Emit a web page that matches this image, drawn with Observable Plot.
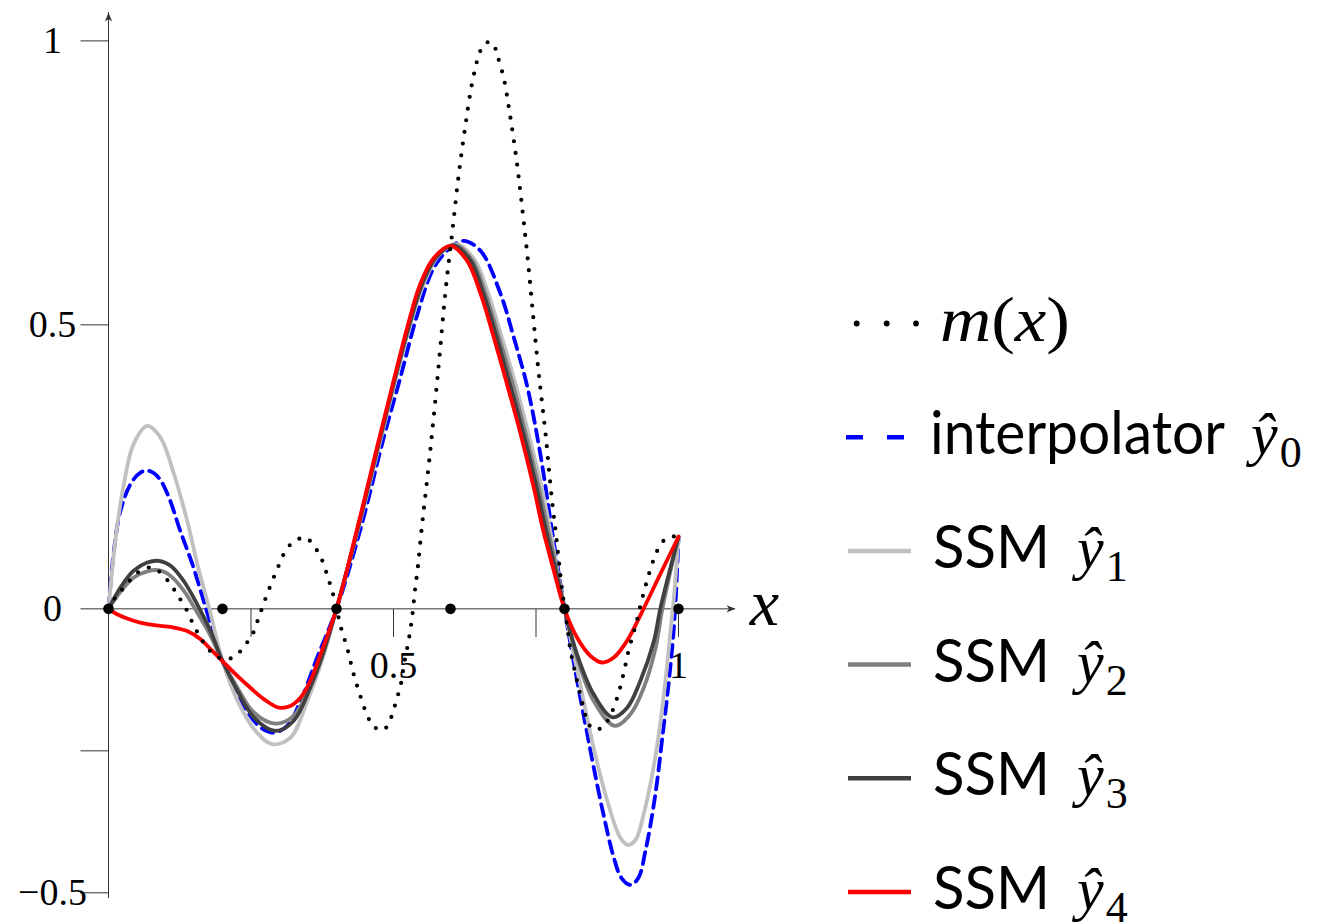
<!DOCTYPE html>
<html>
<head>
<meta charset="utf-8">
<script src="https://cdn.jsdelivr.net/npm/d3@7"></script>
<script src="https://cdn.jsdelivr.net/npm/@observablehq/plot@0.6"></script>
<style>
  html, body { margin: 0; padding: 0; background: #fff; }
  #wrap { position: relative; width: 1328px; height: 924px; overflow: hidden; background: #fff; }
  #chart { position: absolute; left: 0; top: 0; }
  #legend { position: absolute; left: 820px; top: 0; }
</style>
</head>
<body>
<div id="wrap">
  <div id="chart"></div>
  <svg id="legend" width="508" height="924"></svg>
</div>
<script>
// ---- data: [x, y] samples of each curve ----
const truth = [ // m(x)
  [0,0],[0.012,0.02],[0.027,0.0375],[0.042,0.055],[0.056,0.067],[0.077,0.073],[0.094,0.061],
  [0.109,0.043],[0.12,0.026],[0.135,0.002],[0.15,-0.03],[0.161,-0.05],[0.173,-0.068],[0.188,-0.083],
  [0.205,-0.089],[0.223,-0.083],[0.237,-0.067],[0.252,-0.046],[0.264,-0.014],[0.278,0.025],
  [0.296,0.07],[0.313,0.106],[0.328,0.12],[0.346,0.1255],[0.36,0.111],[0.372,0.092],[0.386,0.052],
  [0.398,0.011],[0.407,-0.03],[0.419,-0.07],[0.429,-0.111],[0.441,-0.151],[0.455,-0.19],[0.465,-0.207],
  [0.482,-0.2136],[0.4935,-0.197],[0.5006,-0.1766],[0.5065,-0.156],[0.5123,-0.136],[0.519,-0.0945],
  [0.527,-0.053],[0.533,-0.012],[0.5374,0.0305],[0.5426,0.0727],[0.549,0.137],[0.565,0.283],
  [0.5795,0.431],[0.591,0.557],[0.603,0.6625],[0.6146,0.766],[0.626,0.85],[0.6356,0.913],[0.644,0.954],
  [0.6496,0.975],[0.658,0.993],[0.667,0.998],[0.675,0.995],[0.682,0.975],[0.6935,0.934],[0.704,0.872],
  [0.716,0.789],[0.726,0.704],[0.735,0.621],[0.745,0.516],[0.753,0.432],[0.76,0.368],[0.767,0.306],
  [0.773,0.242],[0.7795,0.178],[0.785,0.132],[0.79,0.085],[0.795,0.04],[0.805,-0.033],[0.8105,-0.073],
  [0.819,-0.114],[0.829,-0.156],[0.8386,-0.193],[0.85,-0.212],[0.866,-0.209],[0.879,-0.191],
  [0.8935,-0.153],[0.904,-0.112],[0.913,-0.071],[0.9246,-0.03],[0.9345,0.011],[0.945,0.0505],
  [0.9567,0.0875],[0.9655,0.108],[0.974,0.12],[0.986,0.127],[1,0.127]
];

const interp = [ // interpolator ŷ0
  [0,0],[0.0094,0.102],[0.021,0.1725],[0.0386,0.2195],[0.056,0.24],[0.071,0.243],[0.088,0.231],
  [0.106,0.196],[0.126,0.137],[0.147,0.079],[0.167,0.014],[0.185,-0.045],[0.2,-0.092],[0.22,-0.133],
  [0.243,-0.18],[0.267,-0.209],[0.29,-0.218],[0.3135,-0.206],[0.337,-0.162],[0.366,-0.086],[0.4,0],
  [0.442,0.14],[0.483,0.302],[0.512,0.407],[0.542,0.519],[0.571,0.601],[0.6,0.636],[0.623,0.648],
  [0.653,0.63],[0.688,0.554],[0.711,0.478],[0.735,0.39],[0.758,0.27],[0.78,0.125],[0.8,0],
  [0.82,-0.115],[0.837,-0.205],[0.851,-0.278],[0.869,-0.365],[0.8865,-0.438],[0.9,-0.474],
  [0.916,-0.486],[0.93,-0.473],[0.942,-0.426],[0.954,-0.3615],[0.9626,-0.303],[0.971,-0.232],
  [0.98,-0.156],[0.989,-0.068],[0.9947,0.01],[1,0.125]
];

const ssm1 = [ // SSM ŷ1
  [0,0],[0.012,0.12],[0.027,0.22],[0.044,0.29],[0.068,0.322],[0.091,0.302],[0.115,0.237],
  [0.138,0.155],[0.158,0.07],[0.177,0.0],[0.2,-0.092],[0.228,-0.165],[0.258,-0.215],[0.287,-0.238],
  [0.319,-0.227],[0.349,-0.162],[0.378,-0.08],[0.4,0],[0.438,0.14],[0.474,0.284],[0.503,0.401],
  [0.528,0.495],[0.553,0.572],[0.579,0.622],[0.611,0.642],[0.642,0.615],[0.666,0.556],[0.69,0.478],
  [0.714,0.396],[0.737,0.308],[0.76,0.214],[0.78,0.11],[0.8,0],[0.828,-0.135],[0.851,-0.244],
  [0.875,-0.338],[0.898,-0.403],[0.911,-0.4155],[0.9246,-0.407],[0.939,-0.361],[0.954,-0.291],
  [0.9655,-0.2206],[0.977,-0.127],[0.986,-0.039],[0.993,0.032],[1,0.127]
];

const ssm2 = [ // SSM ŷ2
  [0,0],[0.021,0.03],[0.044,0.055],[0.068,0.066],[0.088,0.068],[0.109,0.058],[0.132,0.032],
  [0.1556,-0.0065],[0.179,-0.0475],[0.2,-0.092],[0.226,-0.1385],[0.255,-0.1825],[0.293,-0.202],
  [0.325,-0.188],[0.354,-0.1325],[0.378,-0.07],[0.4,0],[0.437,0.14],[0.473,0.284],[0.502,0.401],
  [0.527,0.495],[0.551,0.572],[0.577,0.621],[0.608,0.641],[0.638,0.614],[0.661,0.556],[0.685,0.478],
  [0.709,0.396],[0.732,0.308],[0.755,0.214],[0.771,0.14],[0.787,0.066],[0.8,0],[0.822,-0.086],
  [0.851,-0.162],[0.888,-0.206],[0.916,-0.185],[0.939,-0.139],[0.96,-0.068],[0.971,-0.0035],
  [0.986,0.067],[1,0.127]
];

const ssm3 = [ // SSM ŷ3
  [0,0],[0.021,0.0375],[0.044,0.067],[0.068,0.0815],[0.088,0.0845],[0.109,0.076],[0.132,0.049],
  [0.1556,0.008],[0.179,-0.039],[0.2,-0.092],[0.226,-0.144],[0.255,-0.191],[0.293,-0.215],
  [0.325,-0.197],[0.354,-0.1385],[0.378,-0.074],[0.4,0],[0.437,0.14],[0.472,0.284],[0.501,0.401],
  [0.526,0.495],[0.55,0.572],[0.575,0.62],[0.605,0.64],[0.635,0.613],[0.658,0.554],[0.681,0.478],
  [0.704,0.396],[0.728,0.308],[0.751,0.214],[0.767,0.14],[0.785,0.066],[0.8,0],[0.822,-0.08],
  [0.851,-0.15],[0.884,-0.191],[0.91,-0.174],[0.933,-0.127],[0.957,-0.056],[0.968,0],
  [0.983,0.061],[1,0.127]
];

const ssm4 = [ // SSM ŷ4
  [0,0],[0.015,-0.0095],[0.044,-0.021],[0.068,-0.027],[0.091,-0.03],[0.115,-0.033],[0.138,-0.039],
  [0.161,-0.053],[0.179,-0.071],[0.2,-0.092],[0.226,-0.118],[0.249,-0.139],[0.2725,-0.159],
  [0.299,-0.174],[0.319,-0.171],[0.337,-0.156],[0.354,-0.127],[0.372,-0.08],[0.4,0],[0.436,0.14],
  [0.471,0.284],[0.5,0.401],[0.524,0.495],[0.547,0.572],[0.571,0.618],[0.6,0.639],[0.629,0.613],
  [0.653,0.554],[0.676,0.478],[0.699,0.396],[0.723,0.308],[0.746,0.214],[0.761,0.145],[0.781,0.068],
  [0.8,0],[0.822,-0.0505],[0.8456,-0.083],[0.866,-0.0945],[0.8865,-0.0857],[0.91,-0.056],
  [0.9386,0],[0.968,0.061],[1,0.127]
];

const knots = [0, 0.2, 0.4, 0.6, 0.8, 1];
const xTicks = [0.25, 0.5, 0.75, 1];
const xTickLabels = ["", "0.5", "", "1"];
const yTicks = [1, 0.5, 0, -0.25, -0.5];
const yTickLabels = ["1", "0.5", "0", "", "−0.5"];
const xDomain = [0, 1.1];
const yDomain = [-0.51, 1.05];

const seriesNames = ["interpolator", "SSM", "SSM", "SSM", "SSM"];
const seriesSubs = ["0", "1", "2", "3", "4"];
const seriesColors = ["#0000ff", "#c0c0c0", "#808080", "#404040", "#ff0000"];
const seriesData = [interp, ssm1, ssm2, ssm3, ssm4];

// ---- styling ----
const axisColor = "#333";
const serif = "'Liberation Serif', 'DejaVu Serif', serif";
const sans = "Lato, 'Liberation Sans', sans-serif";

// small custom symbols for ticks and arrow heads (pixel geometry)
const tickLeft = { draw(ctx) { ctx.moveTo(-28, 0); ctx.lineTo(0, 0); } };
const tickDown = { draw(ctx) { ctx.moveTo(0, 0); ctx.lineTo(0, 28); } };
const headRight = { draw(ctx) { ctx.moveTo(0, 0); ctx.lineTo(-9, -3.6); ctx.lineTo(-6.5, 0); ctx.lineTo(-9, 3.6); ctx.closePath(); } };
const headUp = { draw(ctx) { ctx.moveTo(0, 0); ctx.lineTo(-3.6, 9); ctx.lineTo(0, 6.5); ctx.lineTo(3.6, 9); ctx.closePath(); } };

const curveMarks = seriesData.map((data, i) => Plot.line(data, {
  x: d => d[0], y: d => d[1],
  curve: "catmull-rom",
  stroke: seriesColors[i],
  strokeWidth: 3.8,
  strokeDasharray: i === 0 ? "12,7" : null
}));

const chart = Plot.plot({
  width: 820,
  height: 924,
  marginLeft: 108,
  marginRight: 85,
  marginTop: 12,
  marginBottom: 26,
  x: { domain: xDomain, axis: null },
  y: { domain: yDomain, axis: null },
  style: { background: "white", overflow: "visible" },
  marks: [
    // axes
    Plot.ruleX([0], { stroke: axisColor, strokeWidth: 1 }),
    Plot.ruleY([0], { stroke: axisColor, strokeWidth: 1 }),
    Plot.dot([xDomain[1]], { x: d => d, y: 0, symbol: headRight, fill: axisColor, stroke: "none" }),
    Plot.dot([yDomain[1]], { x: 0, y: d => d, symbol: headUp, fill: axisColor, stroke: "none" }),
    Plot.dot(yTicks, { x: 0, y: d => d, symbol: tickLeft, stroke: axisColor, fill: "none", strokeWidth: 1 }),
    Plot.dot(xTicks, { x: d => d, y: 0, symbol: tickDown, stroke: axisColor, fill: "none", strokeWidth: 1 }),
    Plot.text(yTicks, {
      x: 0, y: d => d, text: (d, i) => yTickLabels[i],
      dx: -56, textAnchor: "middle", fontSize: 38, fontFamily: serif, fill: "black"
    }),
    Plot.text(xTicks, {
      x: d => d, y: 0, text: (d, i) => xTickLabels[i],
      dy: 57, textAnchor: "middle", fontSize: 38, fontFamily: serif, fill: "black"
    }),
    Plot.text(["x"], {
      x: xDomain[1], y: 0, text: d => d, dx: 29, dy: -5,
      textAnchor: "middle", fontSize: 66, fontStyle: "italic", fontFamily: serif, fill: "black"
    }),
    // fitted curves
    ...curveMarks,
    // true function m(x), dotted
    Plot.line(truth, {
      x: d => d[0], y: d => d[1], curve: "catmull-rom",
      stroke: "black", strokeWidth: 4.2, strokeDasharray: "0,11.8", strokeLinecap: "round"
    }),
    // knot positions
    Plot.dot(knots, { x: d => d, y: 0, r: 5.3, fill: "black", stroke: "none" })
  ]
});
document.getElementById("chart").appendChild(chart);

// ---- legend ----
const lg = d3.select("#legend");
const rowY = i => 323.5 + 113.7 * i;

// m(x) row
[36.7, 66.7, 96].forEach(cx => lg.append("circle").attr("cx", cx).attr("cy", rowY(0)).attr("r", 2.9).attr("fill", "black"));
const mt = lg.append("text").attr("x", 120).attr("y", rowY(0) + 17)
  .attr("font-family", serif).attr("font-size", 64).attr("fill", "black")
  .attr("textLength", 130).attr("lengthAdjust", "spacingAndGlyphs");
mt.append("tspan").attr("font-style", "italic").text("m");
mt.append("tspan").text("(");
mt.append("tspan").attr("font-style", "italic").text("x");
mt.append("tspan").text(")");

seriesNames.forEach((name, i) => {
  const y = rowY(i + 1);
  lg.append("line")
    .attr("x1", i === 0 ? 26 : 28).attr("x2", 91).attr("y1", y).attr("y2", y)
    .attr("stroke", seriesColors[i]).attr("stroke-width", 4.5)
    .attr("stroke-dasharray", i === 0 ? "17,24" : null);
  lg.append("text").attr("x", i === 0 ? 110 : 113).attr("y", y + 17)
    .attr("font-family", sans).attr("font-size", 60).attr("fill", "black")
    .attr("textLength", i === 0 ? 295 : 117).attr("lengthAdjust", "spacingAndGlyphs")
    .text(name);
  const mx = i === 0 ? 431 : 257;
  const t = lg.append("text").attr("x", mx).attr("y", y + 17)
    .attr("font-family", serif).attr("font-size", 60).attr("fill", "black");
  t.append("tspan").attr("font-style", "italic").text("ŷ");
  t.append("tspan").attr("font-size", 44).attr("dy", 13).attr("dx", 2).text(seriesSubs[i]);
});
</script>
</body>
</html>
